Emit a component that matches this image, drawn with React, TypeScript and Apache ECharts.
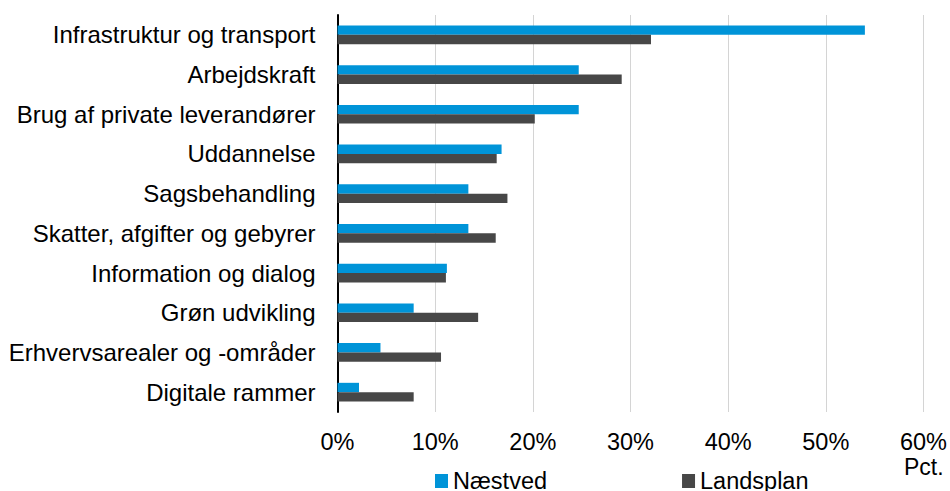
import React, { useEffect, useRef } from "react";
import * as echarts from "echarts";

const categories = [
  "Infrastruktur og transport",
  "Arbejdskraft",
  "Brug af private leverandører",
  "Uddannelse",
  "Sagsbehandling",
  "Skatter, afgifter og gebyrer",
  "Information og dialog",
  "Grøn udvikling",
  "Erhvervsarealer og -områder",
  "Digitale rammer",
];
const naestved = [54.0, 24.7, 24.7, 16.8, 13.4, 13.4, 11.2, 7.8, 4.4, 2.2];
const landsplan = [32.1, 29.1, 20.2, 16.3, 17.4, 16.2, 11.1, 14.4, 10.6, 7.8];
const seriesNames = ["Næstved", "Landsplan"];
const xTicks = { min: 0, max: 60, interval: 10 };
const unitLabel = "Pct.";

const FONT = "'Liberation Sans', Arial, sans-serif";

export default function App() {
  const ref = useRef<HTMLDivElement>(null);
  useEffect(() => {
    if (!ref.current) return;
    const chart = echarts.init(ref.current, undefined, { renderer: "svg" });
    chart.setOption({
      animation: false,
      backgroundColor: "#ffffff",
      textStyle: { fontFamily: FONT },
      grid: { left: 337.5, right: 25, top: 15, bottom: 79, containLabel: false },
      legend: {
        data: seriesNames,
        left: 435,
        top: 469,
        padding: 0,
        itemWidth: 13,
        itemHeight: 14,
        itemGap: 135,
        icon: "rect",
        textStyle: { fontSize: 23.5, color: "#000", fontFamily: FONT, lineHeight: 22 },
      },
      xAxis: {
        type: "value",
        min: xTicks.min,
        max: xTicks.max,
        interval: xTicks.interval,
        axisLine: { show: false },
        axisTick: { show: false },
        splitLine: { show: true, lineStyle: { color: "#d4d4d4", width: 1 } },
        axisLabel: {
          formatter: (v: number) => `${v}%`,
          fontSize: 23.5,
          color: "#000",
          margin: 18,
          fontFamily: FONT,
        },
      },
      yAxis: {
        type: "category",
        data: categories,
        inverse: true,
        axisLine: { show: true, lineStyle: { color: "#000", width: 2 } },
        axisTick: { show: false },
        axisLabel: { fontSize: 24, color: "#000", margin: 22, fontFamily: FONT },
      },
      graphic: [
        {
          type: "text",
          left: 904,
          top: 455,
          style: { text: unitLabel, fontSize: 23, fill: "#000", fontFamily: FONT },
        },
      ],
      series: [
        {
          name: seriesNames[0],
          type: "bar",
          data: naestved,
          barGap: "0%",
          barCategoryGap: "53%",
          itemStyle: { color: "#0094d8" },
        },
        {
          name: seriesNames[1],
          type: "bar",
          data: landsplan,
          barGap: "0%",
          barCategoryGap: "53%",
          itemStyle: { color: "#474747" },
        },
      ],
    });
    return () => chart.dispose();
  }, []);
  return (
    <div
      ref={ref}
      style={{ position: "fixed", left: 0, top: 0, width: 950, height: 491 }}
    />
  );
}
